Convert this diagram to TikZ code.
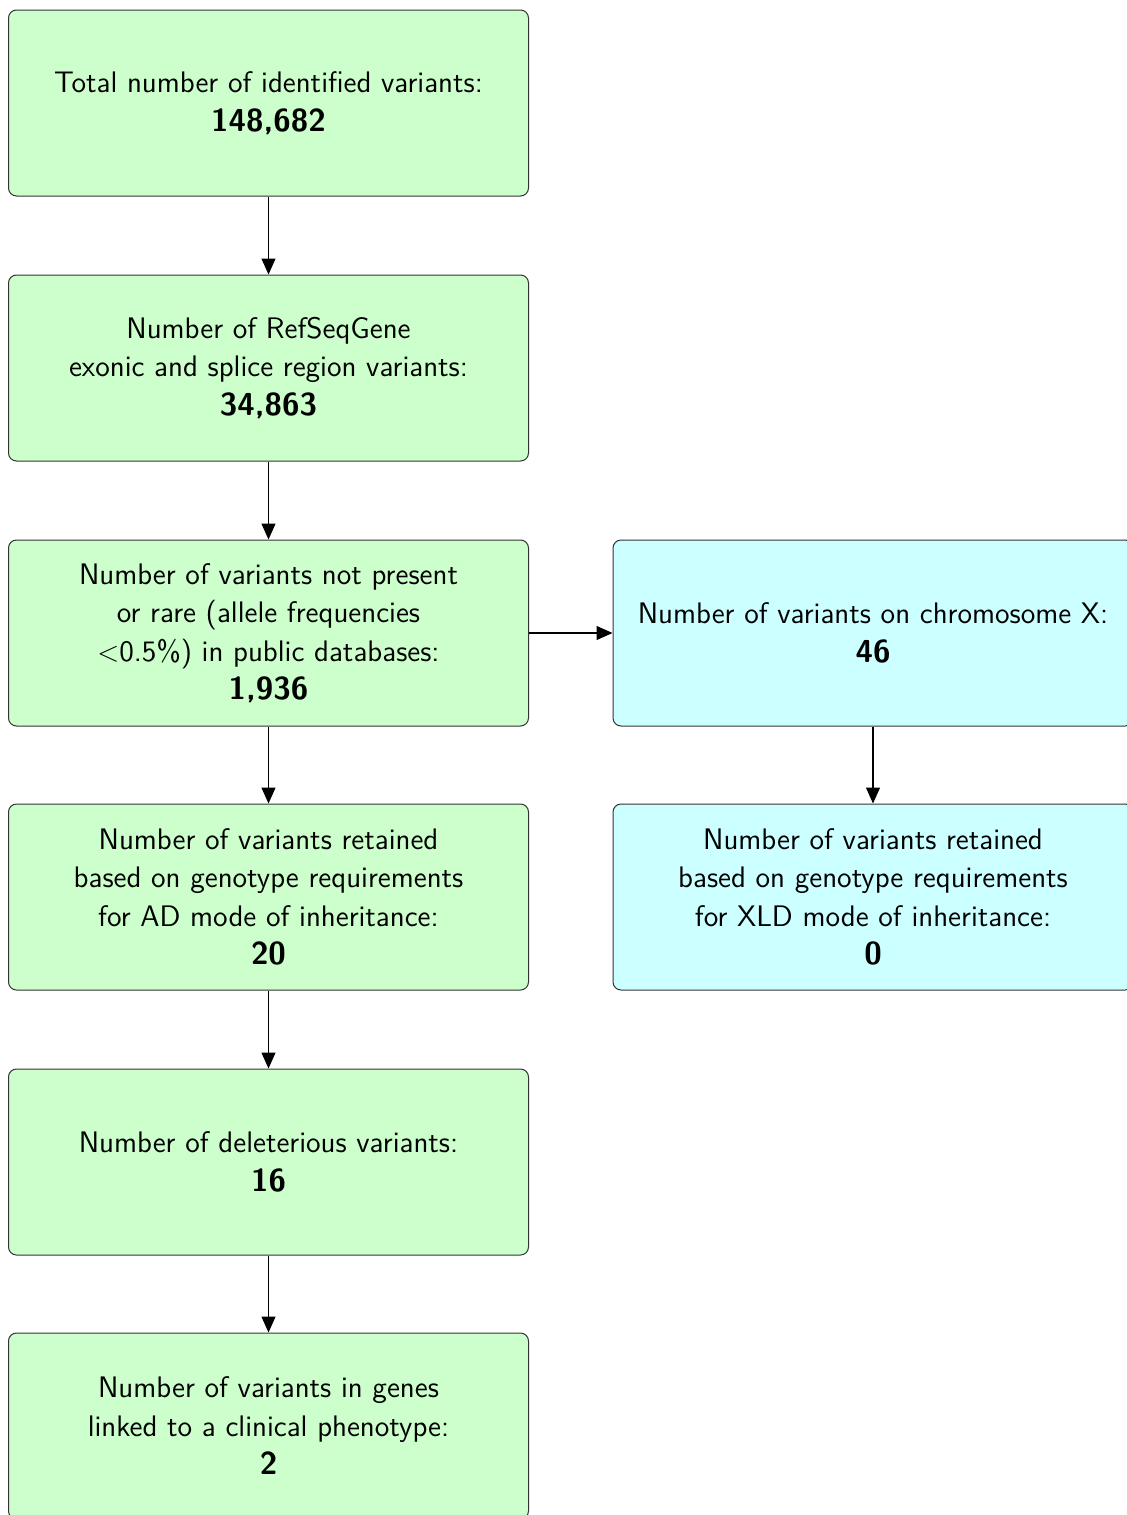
\documentclass[tikz,border=0pt]{standalone}
\usetikzlibrary{arrows.meta}
\definecolor{boxgreen}{HTML}{CCFFCC}
\definecolor{boxcyan}{HTML}{CCFFFF}
\newcommand{\flownum}[1]{{\bfseries\fontsize{15.9}{19.25}\selectfont #1}}
\begin{document}
\begin{tikzpicture}[x=0.5pt,y=-0.5pt,
  flowbox/.style={draw=black!80, line width=0.5pt, rounded corners=4pt,
    minimum width=260pt, minimum height=93pt, align=center, inner sep=0pt,
    font=\sffamily\fontsize{14.85}{19.25}\selectfont},
  greenbox/.style={flowbox, fill=boxgreen},
  cyanbox/.style={flowbox, fill=boxcyan},
  flowarrow/.style={draw=black, line width=0.6pt, -{Triangle[length=8pt,width=7pt]}}]
\useasboundingbox (0,0) rectangle (1127,1515);
\node[greenbox] (n1) at (268.5,103) {Total number of identified variants:\\ \flownum{148,682}};
\node[greenbox] (n2) at (268.5,368) {Number of RefSeqGene\\ exonic and splice region variants:\\ \flownum{34,863}};
\node[greenbox] (n3) at (268.5,633) {Number of variants not present\\ or rare (allele frequencies\\ $<$0.5\%) in public databases:\\ \flownum{1,936}};
\node[greenbox] (n4) at (268.5,897) {Number of variants retained\\ based on genotype requirements\\ for AD mode of inheritance:\\ \flownum{20}};
\node[greenbox] (n5) at (268.5,1162) {Number of deleterious variants:\\ \flownum{16}};
\node[greenbox] (n6) at (268.5,1426) {Number of variants in genes\\ linked to a clinical phenotype:\\ \flownum{2}};
\node[cyanbox] (r1) at (873,633) {Number of variants on chromosome X:\\ \flownum{46}};
\node[cyanbox] (r2) at (873,897) {Number of variants retained\\ based on genotype requirements\\ for XLD mode of inheritance:\\ \flownum{0}};
\draw[flowarrow] (n1) -- (n2);
\draw[flowarrow] (n2) -- (n3);
\draw[flowarrow] (n3) -- (n4);
\draw[flowarrow] (n4) -- (n5);
\draw[flowarrow] (n5) -- (n6);
\draw[flowarrow] (n3) -- (r1);
\draw[flowarrow] (r1) -- (r2);
\end{tikzpicture}
\end{document}
